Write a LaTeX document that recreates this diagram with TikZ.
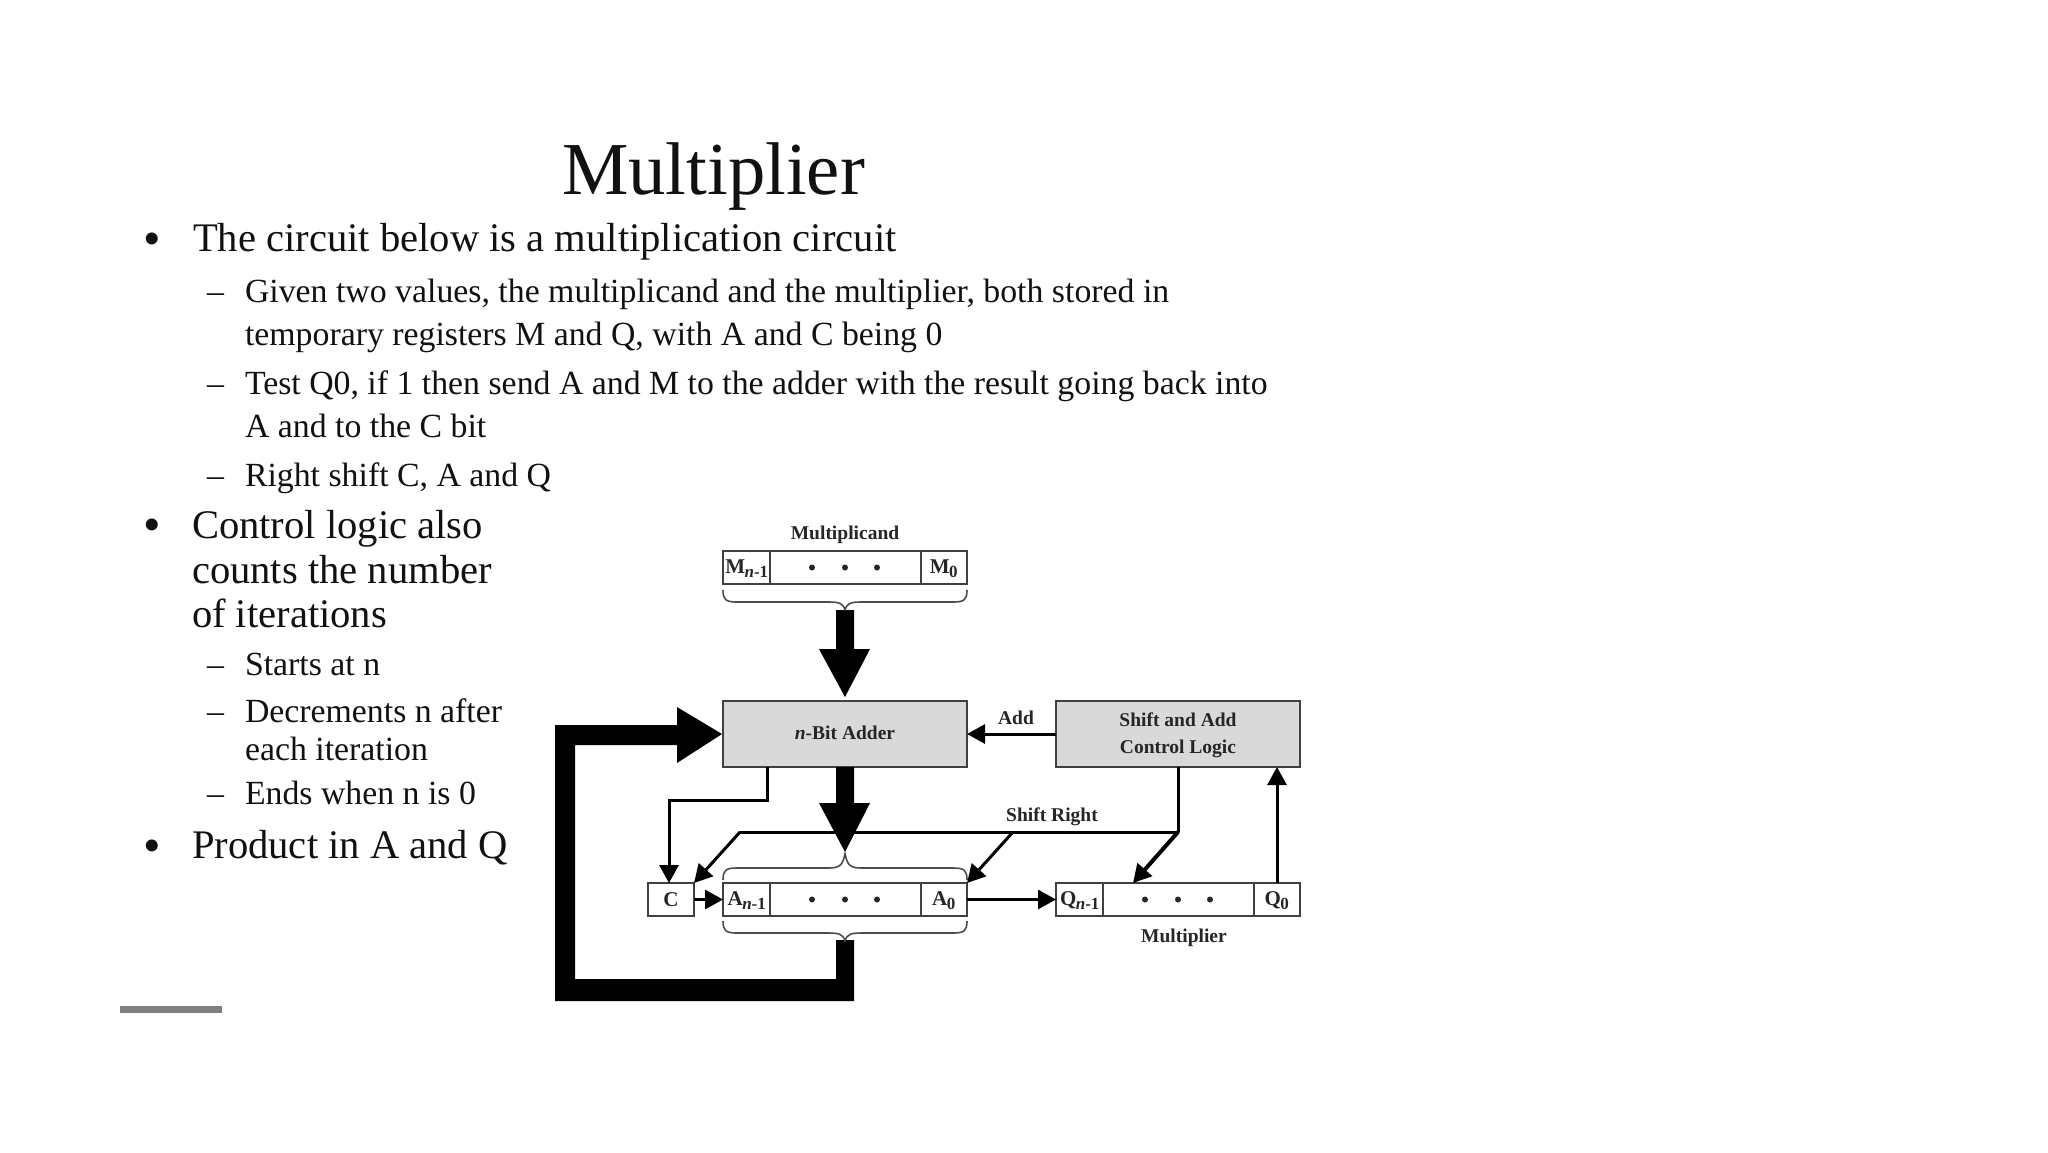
\documentclass[tikz,border=0pt]{standalone}
\usepackage{fontspec}
\setmainfont{Liberation Serif}
\usetikzlibrary{arrows.meta,calc}
\definecolor{inkc}{HTML}{111111}
\definecolor{boxg}{HTML}{D9D9D9}
\tikzset{
 x=1pt,y=-1pt,
 txt/.style={anchor=base west,inner sep=0pt,outer sep=0pt,text=inkc,font=\fontsize{#1}{#1}\selectfont},
 lab/.style={inner sep=0pt,text=black!85,align=center,font=\fontsize{19.5}{27}\selectfont\bfseries},
 regbox/.style={draw=black!75,line width=2pt,fill=white,inner sep=0pt,outer sep=0pt},
 addbox/.style={draw=black!75,line width=2.2pt,fill=boxg,inner sep=0pt,outer sep=0pt},
 wire/.style={draw=black,line width=3pt},
 thin tip/.style={-{Triangle[length=18pt,width=19pt]}},
 bigfill/.style={fill=black,draw=none},
 bracec/.style={draw=black!70,line width=1.6pt,line join=round},
 celltxt/.style={inner sep=0pt,text=black!85,font=\fontsize{21}{21}\selectfont\bfseries},
 dotc/.style={circle,fill=black!85,inner sep=0pt,minimum size=6pt}
}
\newcommand{\regcell}[5]{% name, xleft, ytop, label1, label2
 \node[regbox,anchor=north west,minimum width=244pt,minimum height=33pt] (#1) at (#2,#3) {};
 \draw[black!75,line width=2pt] ($(#1.north west)+(47pt,0)$) -- ($(#1.south west)+(47pt,0)$);
 \draw[black!75,line width=2pt] ($(#1.north east)+(-46pt,0)$) -- ($(#1.south east)+(-46pt,0)$);
 \node[celltxt] (#1l) at ($(#1.west)+(24pt,-1pt)$) {#4};
 \node[celltxt] (#1r) at ($(#1.east)+(-23pt,-1pt)$) {#5};
 \node[dotc] (#1d1) at ($(#1.center)+(-33pt,0)$) {};
 \node[dotc] (#1d2) at (#1.center) {};
 \node[dotc] (#1d3) at ($(#1.center)+(32pt,0)$) {};
}
\newcommand{\sbs}[2]{#1\textsubscript{\kern-0.5pt\fontsize{17}{17}\selectfont #2}}
\newcommand{\bracedown}[2]{% x-left, y-top
 \draw[bracec] (#1,#2) .. controls (#1,#2+10) and (#1+3,#2+12) .. (#1+14,#2+12)
   -- (#1+105,#2+12) .. controls (#1+116,#2+12) and (#1+120,#2+13) .. (#1+122,#2+20)
   .. controls (#1+124,#2+13) and (#1+128,#2+12) .. (#1+139,#2+12)
   -- (#1+230,#2+12) .. controls (#1+241,#2+12) and (#1+244,#2+10) .. (#1+244,#2);
}
\begin{document}
\begin{tikzpicture}
\useasboundingbox (0,0) rectangle (2048,1152);
\fill[white] (0,0) rectangle (2048,1152);
% slide text
\node[txt=74.7] (title) at (562,194) {Multiplier};
\node[txt=50] (b1) at (143,255) {•};
\node[txt=40.6] (t1) at (193,251) {The circuit below is a multiplication circuit};
\node[txt=33.8] (d1) at (207,302) {–};
\node[txt=33.8] (t2) at (245,302) {Given two values, the multiplicand and the multiplier, both stored in};
\node[txt=33.8] (t3) at (245,345) {temporary registers M and Q, with A and C being 0};
\node[txt=33.8] (d2) at (207,394) {–};
\node[txt=33.8] (t4) at (245,394) {Test Q0, if 1 then send A and M to the adder with the result going back into};
\node[txt=33.8] (t5) at (245,437) {A and to the C bit};
\node[txt=33.8] (d3) at (207,486) {–};
\node[txt=33.8] (t6) at (245,486) {Right shift C, A and Q};
\node[txt=50] (b2) at (143,541) {•};
\node[txt=40.6] (t7) at (192,538) {Control logic also};
\node[txt=40.6] (t8) at (192,583) {counts the number};
\node[txt=40.6] (t9) at (192,627) {of iterations};
\node[txt=33.8] (d4) at (207,675) {–};
\node[txt=33.8] (t10) at (245,675) {Starts at n};
\node[txt=33.8] (d5) at (207,722) {–};
\node[txt=33.8] (t11) at (245,722) {Decrements n after};
\node[txt=33.8] (t12) at (245,760) {each iteration};
\node[txt=33.8] (d6) at (207,804) {–};
\node[txt=33.8] (t13) at (245,804) {Ends when n is 0};
\node[txt=50] (b3) at (143,862) {•};
\node[txt=40.6] (t14) at (192,858) {Product in A and Q};
\fill[black!50] (120,1006) rectangle (222,1013);
% big arrows
\fill[bigfill] (555,1001) -- (555,725) -- (677,725) -- (677,707) -- (722,734) -- (677,763) -- (677,745) -- (575,745) -- (575,979) -- (836,979) -- (836,940) -- (854,940) -- (854,1001) -- cycle;
\fill[bigfill] (836,610) -- (854,610) -- (854,649) -- (870,649) -- (845,697) -- (819,649) -- (836,649) -- cycle;
% registers
\regcell{M}{723}{551}{\sbs{M}{\textit{n}-1}}{\sbs{M}{0}}
\regcell{A}{723}{883}{\sbs{A}{\textit{n}-1}}{\sbs{A}{0}}
\regcell{Q}{1056}{883}{\sbs{Q}{\textit{n}-1}}{\sbs{Q}{0}}
\node[regbox,anchor=north west,minimum width=46pt,minimum height=33pt,celltxt] (C) at (648,883) {C};
\node[addbox,anchor=north west,minimum width=244pt,minimum height=66pt] (adder) at (723,701) {};
\node[addbox,anchor=north west,minimum width=244pt,minimum height=66pt] (ctrl) at (1056,701) {};
\node[lab] (addert) at (845,733) {\textit{n}-Bit Adder};
\node[lab] (ctrlt) at (1178,735.5) {Shift and Add\\Control Logic};
\bracedown{723}{590}
\bracedown{723}{921}
% brace above A (inverted)
\draw[bracec] (723,880) .. controls (723,870) and (726,868) .. (737,868) -- (828,868) .. controls (839,868) and (843,866) .. (845,853) .. controls (847,866) and (851,868) .. (862,868) -- (953,868) .. controls (964,868) and (967,870) .. (967,880);
% labels
\node[lab] (lmd) at (845,535) {Multiplicand};
\node[lab] (ladd) at (1016,718) {Add};
\node[lab] (lsr) at (1052,817) {Shift Right};
\node[lab] (lmr) at (1184,938) {Multiplier};
% sum arrow
\fill[bigfill] (836,767) -- (854,767) -- (854,803) -- (870,803) -- (845,852) -- (819,803) -- (836,803) -- cycle;
% wires
\coordinate (cor) at (1178,832);
\coordinate (sl) at (740,832);
\coordinate (sr) at (1013,832);
\draw[wire] (ctrl.south) -- (cor);
\draw[wire,line cap=round] (cor) -- (sl);
\draw[wire,thin tip] (sl) -- (C.north east);
\draw[wire,thin tip] (sr) -- (A.north east);
\draw[wire,line width=4pt,thin tip] (cor) -- (1133,883);
\draw[wire,thin tip] (ctrl.west) -- (adder.east);
\draw[wire,thin tip] (1277,883) -- (1277,767);
\draw[wire,thin tip] (A.east) -- (Q.west);
\draw[wire,thin tip] (C.east) -- (A.west);
\draw[wire,thin tip] (767,767) -- (767,800) -- (669,800) -- (C.north -| 669,0);
\end{tikzpicture}
\end{document}
